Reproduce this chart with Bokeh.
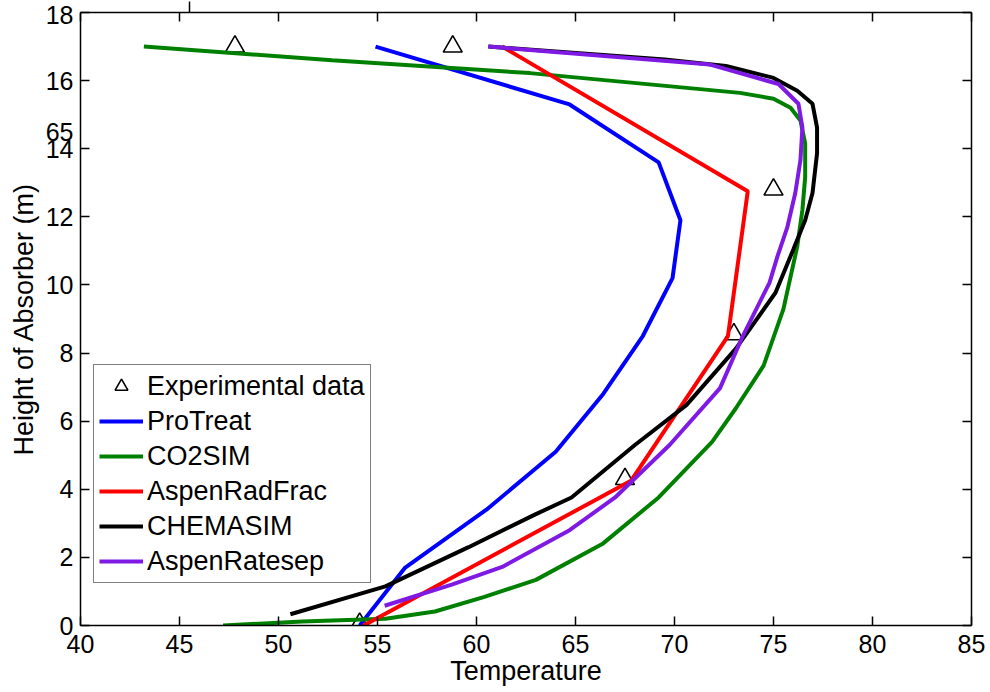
from bokeh.plotting import figure
from bokeh.models import LinearAxis, FixedTicker, Range1d
from bokeh.embed import file_html
from bokeh.resources import INLINE

# ---------------- data ----------------
x_ticks = [40, 45, 50, 55, 60, 65, 70, 75, 80, 85]
y_ticks = [0, 2, 4, 6, 8, 10, 12, 14, 16, 18]
# stray "65" tick label of an overlapping axes, printed over the "14" label
y_label_overrides = {14: "65\n14\n "}
# stray tick of the overlapping axes, above the top edge
stray_top_ticks = [45.5]

exp_T = [54.1, 67.5, 73.0, 75.0, 58.8, 47.8]
exp_h = [0.05, 4.3, 8.55, 12.8, 17.0, 17.0]

protreat_T = [54.1, 56.4, 60.5, 64.0, 66.4, 68.4, 69.9, 70.3, 69.2, 64.7, 54.9]
protreat_h = [0.0, 1.7, 3.4, 5.1, 6.8, 8.5, 10.2, 11.9, 13.6, 15.3, 17.0]

co2sim_T = [47.2, 51.2, 55.4, 57.9, 60.4, 63.0, 66.35, 69.2, 71.9, 73.1, 74.5, 75.5,
            76.2, 76.46, 76.6, 76.6, 76.36, 75.86, 75.0, 73.3, 62.7, 52.7, 43.2]
co2sim_h = [0.0, 0.12, 0.2, 0.41, 0.84, 1.34, 2.39, 3.76, 5.39, 6.38, 7.63, 9.29,
            11.13, 12.2, 13.17, 14.15, 14.83, 15.2, 15.47, 15.64, 16.22, 16.6, 17.0]

radfrac_T = [54.3, 67.8, 72.7, 73.7, 61.3]
radfrac_h = [0.0, 4.25, 8.5, 12.75, 17.0]

chemasim_T = [50.6, 55.4, 59.6, 63.0, 64.8, 68.0, 70.6, 73.1, 75.1, 76.0, 76.6, 76.97,
              77.2, 77.2, 76.97, 76.2, 75.0, 72.6, 69.5, 60.6]
chemasim_h = [0.33, 1.15, 2.3, 3.27, 3.76, 5.3, 6.47, 8.13, 9.77, 11.04, 11.9, 12.7,
              13.87, 14.62, 15.32, 15.7, 16.08, 16.43, 16.62, 17.0]

ratesep_T = [55.36, 58.75, 61.3, 64.7, 67.0, 69.75, 72.3, 73.45, 74.8, 75.2, 75.7, 76.1,
             76.36, 76.46, 76.26, 75.25, 71.8, 60.6]
ratesep_h = [0.58, 1.2, 1.72, 2.8, 3.76, 5.3, 6.97, 8.5, 10.07, 10.84, 11.7, 12.7,
             13.66, 14.62, 15.32, 15.9, 16.47, 17.0]

series = [
    ("ProTreat", protreat_T, protreat_h, "#0000FF"),
    ("CO2SIM", co2sim_T, co2sim_h, "#008000"),
    ("AspenRadFrac", radfrac_T, radfrac_h, "#FF0000"),
    ("CHEMASIM", chemasim_T, chemasim_h, "#000000"),
    ("AspenRatesep", ratesep_T, ratesep_h, "#7E1AE4"),
]

FONT = "Liberation Sans"

p = figure(width=985, height=691,
           x_range=Range1d(40, 85), y_range=Range1d(0, 18),
           output_backend="svg", toolbar_location=None,
           min_border_left=80, min_border_right=14,
           min_border_top=12, min_border_bottom=66)
p.background_fill_color = "white"
p.border_fill_color = "white"
p.outline_line_color = None
p.xgrid.visible = False
p.ygrid.visible = False


def style_axis(ax, ticks, labels=True):
    ax.ticker = FixedTicker(ticks=ticks)
    ax.axis_line_color = "black"
    ax.axis_line_width = 1.5
    ax.major_tick_line_color = "black"
    ax.major_tick_line_width = 1.5
    ax.major_tick_in = 9
    ax.major_tick_out = 0
    ax.minor_tick_line_color = None
    ax.major_label_text_font = FONT
    if labels:
        ax.major_label_text_color = "black"
        ax.major_label_text_font_size = "25px"
    else:
        ax.major_label_text_color = None
        ax.major_label_text_font_size = "1px"
        ax.major_label_standoff = 0


xa = p.xaxis[0]
style_axis(xa, x_ticks)
xa.major_label_standoff = 9
xa.axis_label = "Temperature"
xa.axis_label_text_font = FONT
xa.axis_label_text_font_size = "27px"
xa.axis_label_text_font_style = "normal"
xa.axis_label_text_color = "black"
xa.axis_label_standoff = 0

ya = p.yaxis[0]
style_axis(ya, y_ticks)
ya.major_label_overrides = y_label_overrides
ya.major_label_text_line_height = 0.6
ya.major_label_standoff = 7
ya.axis_label = "Height of Absorber (m)"
ya.axis_label_text_font = FONT
ya.axis_label_text_font_size = "27px"
ya.axis_label_text_font_style = "normal"
ya.axis_label_text_color = "black"
ya.axis_label_standoff = 4

top_ax = LinearAxis()
style_axis(top_ax, x_ticks, labels=False)
p.add_layout(top_ax, "above")

stray_ax = LinearAxis()
style_axis(stray_ax, stray_top_ticks, labels=False)
stray_ax.axis_line_color = None
stray_ax.major_tick_in = 0
stray_ax.major_tick_out = 11
p.add_layout(stray_ax, "above")

right_ax = LinearAxis()
style_axis(right_ax, y_ticks, labels=False)
p.add_layout(right_ax, "right")

p.scatter(exp_T, exp_h, marker="triangle", size=19, fill_color=None,
          line_color="black", line_width=1.6, legend_label="Experimental data")

for name, T, h, col in series:
    p.line(T, h, line_color=col, line_width=4, legend_label=name)

lg = p.legend[0]
lg.location = (13, 42)
lg.label_text_font = FONT
lg.label_text_font_size = "27px"
lg.label_text_color = "black"
lg.label_height = 32
lg.glyph_height = 32
lg.glyph_width = 44
lg.label_standoff = 4
lg.spacing = 3
lg.padding = 5
lg.margin = 0
lg.border_line_color = "black"
lg.border_line_width = 1
lg.background_fill_color = "white"
lg.background_fill_alpha = 1.0

open("out.html", "w").write(file_html(p, INLINE))
